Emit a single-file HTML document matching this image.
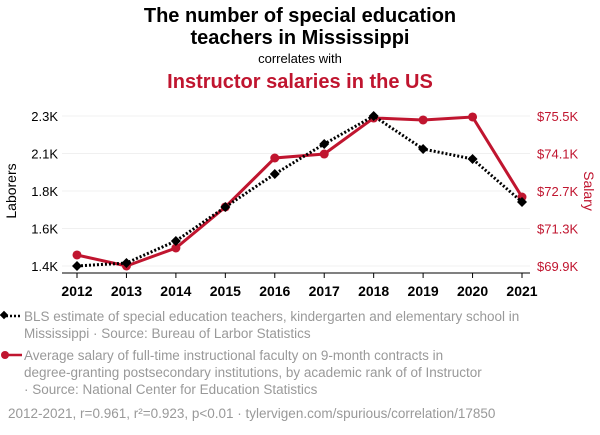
<!DOCTYPE html>
<html><head><meta charset="utf-8"><style>
body{margin:0;width:600px;height:430px;background:#fff;font-family:"Liberation Sans",sans-serif;overflow:hidden}
</style></head><body>
<svg width="600" height="430" font-family="Liberation Sans, sans-serif">
<text x="300" y="22" text-anchor="middle" font-size="20" font-weight="bold" fill="#000">The number of special education</text>
<text x="300" y="44" text-anchor="middle" font-size="20" font-weight="bold" fill="#000">teachers in Mississippi</text>
<text x="300" y="63" text-anchor="middle" font-size="13" fill="#000">correlates with</text>
<text x="300" y="88" text-anchor="middle" font-size="20" font-weight="bold" fill="#c0152f">Instructor salaries in the US</text>
<g id="grid"></g>
<line x1="62" y1="273" x2="530" y2="273" stroke="#000" stroke-width="1"/>
<text transform="translate(16,191) rotate(-90)" text-anchor="middle" font-size="14" fill="#000">Laborers</text>
<text transform="translate(584,191) rotate(90)" text-anchor="middle" font-size="14" fill="#c0152f">Salary</text>
<g id="ticks"></g>
<g id="series"></g>
<g>
<line x1="2" y1="316" x2="22" y2="316" stroke="#000" stroke-width="2.5" stroke-dasharray="2,2"/>
<rect x="1" y="312" width="6" height="6" transform="rotate(45 4 315)" fill="#000"/>
<text x="24" y="321" font-size="13.5" fill="#999">BLS estimate of special education teachers, kindergarten and elementary school in</text>
<text x="24" y="338" font-size="13.5" fill="#999">Mississippi · Source: Bureau of Larbor Statistics</text>
<line x1="2" y1="355" x2="22" y2="355" stroke="#c0152f" stroke-width="2.5"/>
<circle cx="5" cy="355" r="4" fill="#c0152f"/>
<text x="24" y="360" font-size="13.5" fill="#999">Average salary of full-time instructional faculty on 9-month contracts in</text>
<text x="24" y="377" font-size="13.5" fill="#999">degree-granting postsecondary institutions, by academic rank of of Instructor</text>
<text x="24" y="394" font-size="13.5" fill="#999">· Source: National Center for Education Statistics</text>
</g>
<text x="8" y="418" font-size="13.5" fill="#999">2012-2021, r=0.961, r²=0.923, p&lt;0.01 · tylervigen.com/spurious/correlation/17850</text>
</svg>
<script>
const years=[2012,2013,2014,2015,2016,2017,2018,2019,2020,2021];
const teachers=[1400,1418,1550,1754,1952,2132,2300,2102,2042,1784];
const salary=[70311,69900,70572,72103,73932,74081,75425,75351,75463,72476];
const leftTicks=["1.4K","1.6K","1.8K","2.1K","2.3K"];
const rightTicks=["$69.9K","$71.3K","$72.7K","$74.1K","$75.5K"];
const NS="http://www.w3.org/2000/svg";
function xs(i){return 77+i*(522-77)/(years.length-1);}
function yl(v){return 266-(v-1400)/900*150;}
function yr(v){return 266-(v-69900)/5600*150;}
function mk(t,a,p){const e=document.createElementNS(NS,t);for(const k in a)e.setAttribute(k,a[k]);p.appendChild(e);return e;}
const grid=document.getElementById('grid'),ticks=document.getElementById('ticks'),ser=document.getElementById('series');
leftTicks.forEach((l,i)=>{const y=266-i*37.5;
 const g=mk('line',{x1:62,x2:530,y1:y,y2:y,stroke:'#f0f0f0'},grid);
 
 
 const t=mk('text',{x:58,y:y+5,'text-anchor':'end','font-size':13,fill:'#000'},ticks);t.textContent=l;
 
 
 const r=mk('text',{x:537,y:y+5,'font-size':13,fill:'#c0152f'},ticks);r.textContent=rightTicks[i];
 
 
});
years.forEach((yv,i)=>{const t=mk('text',{x:xs(i),y:296,'text-anchor':'middle','font-size':14,'font-weight':'bold',fill:'#000'},ticks);t.textContent=yv;
 
 
 const tl=mk('line',{x1:xs(i),x2:xs(i),y1:273,y2:278,stroke:'#000'},ticks);
 
 
});
const rp=mk('polyline',{points:salary.map((v,i)=>xs(i)+','+yr(v)).join(' '),fill:'none',stroke:'#c0152f','stroke-width':3},ser);


salary.forEach((v,i)=>{const c=mk('circle',{cx:xs(i),cy:yr(v),r:4.5,fill:'#c0152f'},ser);
 
 });
const bp=mk('polyline',{points:teachers.map((v,i)=>xs(i)+','+yl(v)).join(' '),fill:'none',stroke:'#000','stroke-width':3,'stroke-dasharray':'2,2'},ser);


teachers.forEach((v,i)=>{const x=xs(i),y=yl(v);const d=mk('polygon',{points:`${x},${y-5} ${x+5},${y} ${x},${y+5} ${x-5},${y}`,fill:'#000'},ser);
 
 });
</script>
</body></html>
